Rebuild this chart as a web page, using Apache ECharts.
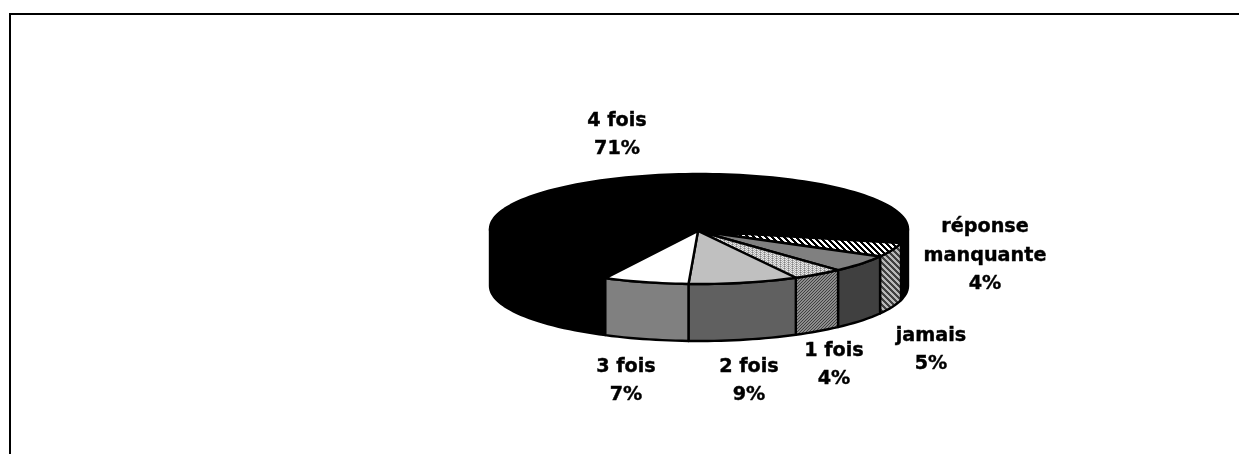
<!DOCTYPE html>
<html><head><meta charset="utf-8">
<style>html,body{margin:0;padding:0;background:#fff;overflow:hidden}#c{width:1239px;height:454px}</style>
<script src="https://cdn.jsdelivr.net/npm/echarts@6/dist/echarts.min.js"></script>
</head><body><div id="c"></div>
<script>
const categories = ['4 fois', 'réponse\nmanquante', 'jamais', '1 fois', '2 fois', '3 fois'];
const shares = [71, 4, 5, 4, 9, 7];

// layout (not data)
const PIE = { cx: 699, cy: 229, rx: 209, ry: 55, depth: 57, apexY: 231, startDeg: -28.3, skew: 2 };
const LABEL_POS = [[617, 135], [985, 256], [931, 350], [834, 365], [749, 381], [626, 381]];

function tile(size, draw) {
  const c = document.createElement('canvas');
  c.width = c.height = size;
  const g = c.getContext('2d');
  for (let y = 0; y < size; y++) for (let x = 0; x < size; x++) {
    g.fillStyle = draw(x, y);
    g.fillRect(x, y, 1, 1);
  }
  return { image: c, repeat: 'repeat' };
}
const stripeTop = tile(6, (x, y) => ((x - y + 60) % 6 < 3 ? '#000' : '#fff'));
const stripeSide = tile(6, (x, y) => ((x - y + 60) % 6 < 3 ? '#404040' : '#b8b8b8'));
const dotsTop = tile(4, (x, y) => ((x + y) % 2 === 0 ? ((x % 4 === 0) ? '#808080' : '#e8e8e8') : '#b0b0b0'));
const fineSide = tile(3, (x, y) => ((x + y) % 3 === 0 ? '#404040' : '#8c8c8c'));

const topFills = ['#000', stripeTop, '#808080', dotsTop, '#c0c0c0', '#fff'];
const sideFills = ['#000', stripeSide, '#404040', fineSide, '#606060', '#808080'];

const total = shares.reduce((a, b) => a + b, 0);
const rad = d => d * Math.PI / 180;
function pt(deg, z) {
  // slight foreshortening of the pie's angles, as a 3-D projection does
  const d = deg - PIE.skew * Math.sin(rad(2 * deg));
  return [PIE.cx + PIE.rx * Math.sin(rad(d)), PIE.cy + PIE.ry * Math.cos(rad(d)) + z];
}
function arc(from, to, z) {
  const n = Math.max(2, Math.ceil(Math.abs(to - from) / 2));
  const out = [];
  for (let i = 0; i <= n; i++) out.push(pt(from + (to - from) * i / n, z));
  return out;
}
const stroke = { stroke: '#000', lineWidth: 2.4, lineJoin: 'round' };

function renderItem(params, api) {
  const i = api.value(0);
  let a = PIE.startDeg;
  for (let k = 0; k < i; k++) a -= shares[k] / total * 360;
  const b = a - api.value(1) / total * 360;
  const children = [];
  [[-90, 90], [-450, -270]].forEach(([lo, hi]) => {
    const p = Math.min(a, hi), q = Math.max(b, lo);
    if (p > q) {
      const pts = arc(p, q, 0).concat(arc(q, p, PIE.depth));
      children.push({ type: 'polygon', shape: { points: pts }, style: Object.assign({ fill: sideFills[i] }, stroke) });
    }
  });
  const face = [[PIE.cx - 1, PIE.apexY]].concat(arc(a, b, 0));
  children.push({ type: 'polygon', shape: { points: face }, style: Object.assign({ fill: topFills[i] }, stroke) });
  children.push({
    type: 'text', z2: 10,
    style: {
      text: api.value(2) + '\n' + api.value(1) + '%',
      x: LABEL_POS[i][0], y: LABEL_POS[i][1], align: 'center', verticalAlign: 'middle',
      fill: '#000', font: 'bold 19.2px "DejaVu Sans"', lineHeight: 28.5,
      stroke: '#000', lineWidth: 0.4
    }
  });
  return { type: 'group', children };
}

const chart = echarts.init(document.getElementById('c'), null, { renderer: 'canvas' });
chart.setOption({
  animation: false,
  backgroundColor: '#fff',
  graphic: [
    { type: 'line', silent: true, shape: { x1: 9, y1: 14, x2: 1239, y2: 14 }, style: { stroke: '#000', lineWidth: 2 } },
    { type: 'line', silent: true, shape: { x1: 10, y1: 13, x2: 10, y2: 454 }, style: { stroke: '#000', lineWidth: 2 } }
  ],
  series: [{
    type: 'custom',
    coordinateSystem: 'none',
    silent: true,
    renderItem,
    encode: { itemName: 2, value: 1 },
    data: categories.map((c, i) => [i, shares[i], c])
  }]
});
</script></body></html>
